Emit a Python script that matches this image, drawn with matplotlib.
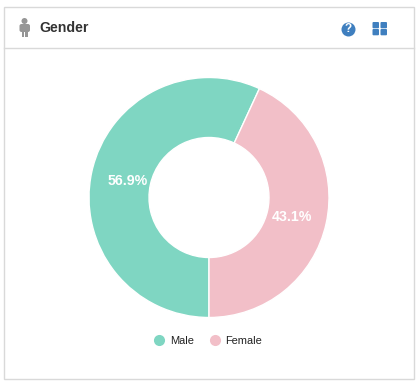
import matplotlib.pyplot as plt
from matplotlib.lines import Line2D
from matplotlib.patches import Circle, FancyBboxPatch, Rectangle

W, H = 420, 387

labels = ['Male', 'Female']
shares = [56.9, 43.1]
colors = ['#7fd6c2', '#f2bfc8']
title = 'Gender'

plt.rcParams['font.family'] = ['Liberation Sans', 'DejaVu Sans']


def px(y):
    # экранный y (сверху вниз) в координаты осей
    return H - y


fig = plt.figure(figsize=(W / 100, H / 100), dpi=100, facecolor='white')

# рамка карточки и шапка
bg = fig.add_axes([0, 0, 1, 1])
bg.set_xlim(0, W)
bg.set_ylim(0, H)
bg.axis('off')
bg.add_patch(Rectangle((3.5, px(378.5)), 410, 372, fc='white', ec='#d9d9d9', lw=1))
bg.plot([3.5, 413.5], [px(47.5), px(47.5)], color='#d9d9d9', lw=1)
bg.text(39, px(27.5), title, fontsize=10.2, fontweight='bold', color='#333333',
        ha='left', va='center')

# значок человека
grey = '#969696'
bg.add_patch(Circle((24.5, px(21)), 3, fc=grey, ec='none'))
bg.add_patch(FancyBboxPatch((19.5, px(32)), 10.5, 8, boxstyle='round,pad=0,rounding_size=2',
                            fc=grey, ec='none'))
bg.add_patch(Rectangle((21.5, px(37)), 2.7, 10, fc=grey, ec='none'))
bg.add_patch(Rectangle((24.8, px(37)), 2.7, 10, fc=grey, ec='none'))

# значки справа
blue = '#3f7fbf'
bg.add_patch(Circle((348.5, px(29.5)), 7, fc=blue, ec='none'))
bg.text(348.5, px(29.5), '?', fontsize=8.5, fontweight='bold', color='white',
        ha='center', va='center')
for x0 in (372.5, 380.5):
    for y0 in (22, 29):
        bg.add_patch(FancyBboxPatch((x0, px(y0 + 6.3)), 6.5, 6.3,
                                    boxstyle='round,pad=0,rounding_size=1',
                                    fc=blue, ec='none'))

# кольцевая диаграмма
ax = fig.add_axes([0, 0, 1, 1])
ax.patch.set_visible(False)
wedges, _, autotexts = ax.pie(shares, colors=colors, center=(209, px(197.5)), radius=120,
                              startangle=270, counterclock=False, autopct='%.1f%%',
                              pctdistance=0.7, frame=True,
                              wedgeprops={'width': 60, 'edgecolor': 'white', 'linewidth': 1})
ax.set_xlim(0, W)
ax.set_ylim(0, H)
ax.axis('off')
for t in autotexts:
    t.set_color('white')
    t.set_fontsize(10.2)
    t.set_fontweight('bold')
    x, y = t.get_position()
    t.set_position((x + 0.5, y - 1.5))

handles = [Line2D([], [], ls='none', marker='o', ms=8, mfc=c, mec='none') for c in colors]
ax.legend(handles, labels, loc='center', bbox_to_anchor=(208 / W, px(340.5) / H),
          ncol=2, frameon=False, fontsize=7.9, handlelength=1, handletextpad=0.45,
          columnspacing=1.45, labelcolor='#222222')

fig.savefig('out.png', dpi=100)
